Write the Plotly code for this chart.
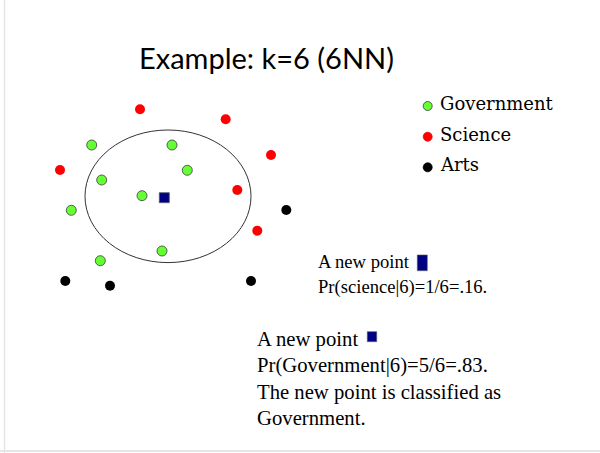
import plotly.graph_objects as go

# ---- data (slide coordinates, y grows downward) ----
gov_x = [91.7, 172, 187.3, 101.7, 142, 71.3, 162, 100.3]
gov_y = [145, 145, 170.3, 180, 195.7, 210.3, 251, 260.7]
sci_x = [140, 225.7, 271, 60, 237.3, 257.3]
sci_y = [109.3, 119.3, 155, 170, 190, 230.7]
arts_x = [286.3, 65.3, 110, 251]
arts_y = [210, 281, 285.7, 281]
new_x = [164.3]
new_y = [197.7]

ellipse_center = [168, 196.3]
ellipse_radius = [83, 66.3]

legend_labels = ["Government", "Science", "Arts"]
legend_colors = ["#66ff33", "#ff0000", "#000000"]
legend_x = [427.7, 427.7, 427.7]
legend_y = [106, 136.7, 167.3]

title_text = "Example: k=6 (6NN)"
block1_lines = ["A new point", "Pr(science|6)=1/6=.16."]
block1_y = [261.5, 286.5]
block1_x = 316
block2_lines = ["A new point", "Pr(Government|6)=5/6=.83.",
                "The new point is classified as", "Government."]
block2_y = [339, 365.5, 392, 417.5]
block2_x = 255
inline_squares = [[417.3, 255, 427.3, 270.7], [367.3, 331.7, 376.7, 341.7]]

GREEN = "#66ff33"
RED = "#ff0000"
NAVY = "#000080"

fig = go.Figure()

fig.add_trace(go.Scatter(x=sci_x, y=sci_y, mode="markers",
                         marker=dict(color=RED, size=10, line=dict(width=0)),
                         hoverinfo="skip", showlegend=False))
fig.add_trace(go.Scatter(x=gov_x, y=gov_y, mode="markers",
                         marker=dict(color=GREEN, size=10, line=dict(color="#3a3a3a", width=0.8)),
                         hoverinfo="skip", showlegend=False))
fig.add_trace(go.Scatter(x=arts_x, y=arts_y, mode="markers",
                         marker=dict(color="#000000", size=10, line=dict(width=0)),
                         hoverinfo="skip", showlegend=False))
fig.add_trace(go.Scatter(x=new_x, y=new_y, mode="markers",
                         marker=dict(color=NAVY, size=10, symbol="square",
                                     line=dict(color="#555577", width=0.8)),
                         hoverinfo="skip", showlegend=False))

# legend drawn as markers + text
fig.add_trace(go.Scatter(x=legend_x, y=legend_y, mode="markers",
                         marker=dict(color=legend_colors, size=9,
                                     line=dict(color=["#3a3a3a", RED, "#000000"], width=0.8)),
                         hoverinfo="skip", showlegend=False))

fig.add_shape(type="circle", xref="x", yref="y",
              x0=ellipse_center[0] - ellipse_radius[0], x1=ellipse_center[0] + ellipse_radius[0],
              y0=ellipse_center[1] - ellipse_radius[1], y1=ellipse_center[1] + ellipse_radius[1],
              line=dict(color="#333333", width=1), layer="below")

for sq in inline_squares:
    fig.add_shape(type="rect", xref="x", yref="y", x0=sq[0], y0=sq[1], x1=sq[2], y1=sq[3],
                  fillcolor=NAVY, line=dict(color="#555577", width=0.6))

# slide border lines
fig.add_shape(type="line", xref="paper", yref="paper", x0=4.5 / 600, x1=4.5 / 600, y0=0, y1=1,
              line=dict(color="#e6e6e6", width=1.5))
fig.add_shape(type="line", xref="paper", yref="paper", x0=0, x1=1, y0=2 / 453, y1=2 / 453,
              line=dict(color="#e6e6e6", width=2))

annotations = []
annotations.append(dict(x=266.5, y=57, text=title_text, showarrow=False, xanchor="center",
                        yanchor="middle", font=dict(family="Lato", size=29, color="#000000")))
for lbl, ly in zip(legend_labels, legend_y):
    annotations.append(dict(x=438, y=ly - 2.5, text=lbl, showarrow=False, xanchor="left",
                            yanchor="middle",
                            font=dict(family="DejaVu Serif", size=18, color="#000000")))
for line, ly in zip(block1_lines, block1_y):
    annotations.append(dict(x=block1_x, y=ly, text=line, showarrow=False, xanchor="left",
                            yanchor="middle",
                            font=dict(family="Liberation Serif", size=18.6, color="#000000")))
for line, ly in zip(block2_lines, block2_y):
    annotations.append(dict(x=block2_x, y=ly, text=line, showarrow=False, xanchor="left",
                            yanchor="middle",
                            font=dict(family="Liberation Serif", size=20.7, color="#000000")))

fig.update_layout(
    width=600, height=453,
    margin=dict(l=0, r=0, t=0, b=0),
    paper_bgcolor="white", plot_bgcolor="white",
    xaxis=dict(range=[0, 600], visible=False, fixedrange=True),
    yaxis=dict(range=[453, 0], visible=False, fixedrange=True),
    annotations=annotations,
    showlegend=False,
)

fig.write_html("out.html",
               config={"displayModeBar": False, "staticPlot": True},
               post_script="document.body.style.margin='0px';document.body.style.overflow='hidden';")
